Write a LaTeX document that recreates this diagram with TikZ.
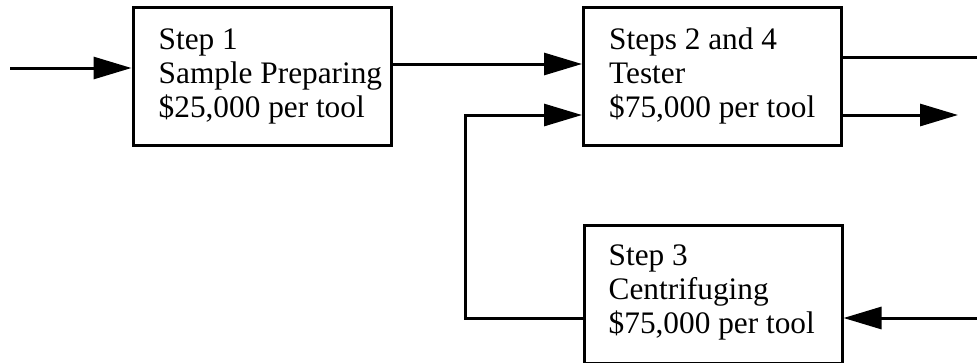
\documentclass[tikz,border=0pt]{standalone}
\usepackage{fontspec}
\setmainfont{Liberation Serif}
\usetikzlibrary{arrows.meta}
\begin{document}
\begin{tikzpicture}[x=1pt,y=-1pt,
  stagebox/.style={draw, line width=3pt, minimum width=258pt, minimum height=138pt, inner sep=0pt},
  stagetext/.style={anchor=west, align=left, inner sep=0pt,
    font=\fontsize{31.3}{34}\selectfont},
  flow/.style={line width=3pt},
  arr/.style={flow, -{Triangle[length=38pt,width=22pt]}}]
\useasboundingbox (0,0) rectangle (977,362);

% process boxes
\node[stagebox] (s1) at (262,76) {};
\node[stagebox] (s2) at (712.5,76) {};
\node[stagebox] (s3) at (713,294) {};

% box contents
\node[stagetext] (t1) at ([xshift=27pt]s1.west) {Step 1\\Sample Preparing\\\$25,000 per tool};
\node[stagetext] (t2) at ([xshift=27pt]s2.west) {Steps 2 and 4\\Tester\\\$75,000 per tool};
\node[stagetext] (t3) at ([xshift=26pt,yshift=2pt]s3.west) {Step 3\\Centrifuging\\\$75,000 per tool};

% free ends of the connectors
\coordinate (in1) at (10,68);
\coordinate (mid) at (0,64);
\coordinate (out1) at (977,57);
\coordinate (out2) at (958,115);
\coordinate (in3) at (977,318);
\coordinate (loopB) at (465,318);
\coordinate (loopT) at (465,115);

% connectors
\draw[arr] (in1) -- (s1.west |- in1);
\draw[arr] (s1.east |- mid) -- (s2.west |- mid);
\draw[flow] (s2.east |- out1) -- (out1);
\draw[arr] (s2.east |- out2) -- (out2);
\draw[arr] (s3.west |- loopB) -- (loopB) -- (loopT) -- (s2.west |- loopT);
\draw[arr] (in3) -- (s3.east |- in3);
\end{tikzpicture}
\end{document}
